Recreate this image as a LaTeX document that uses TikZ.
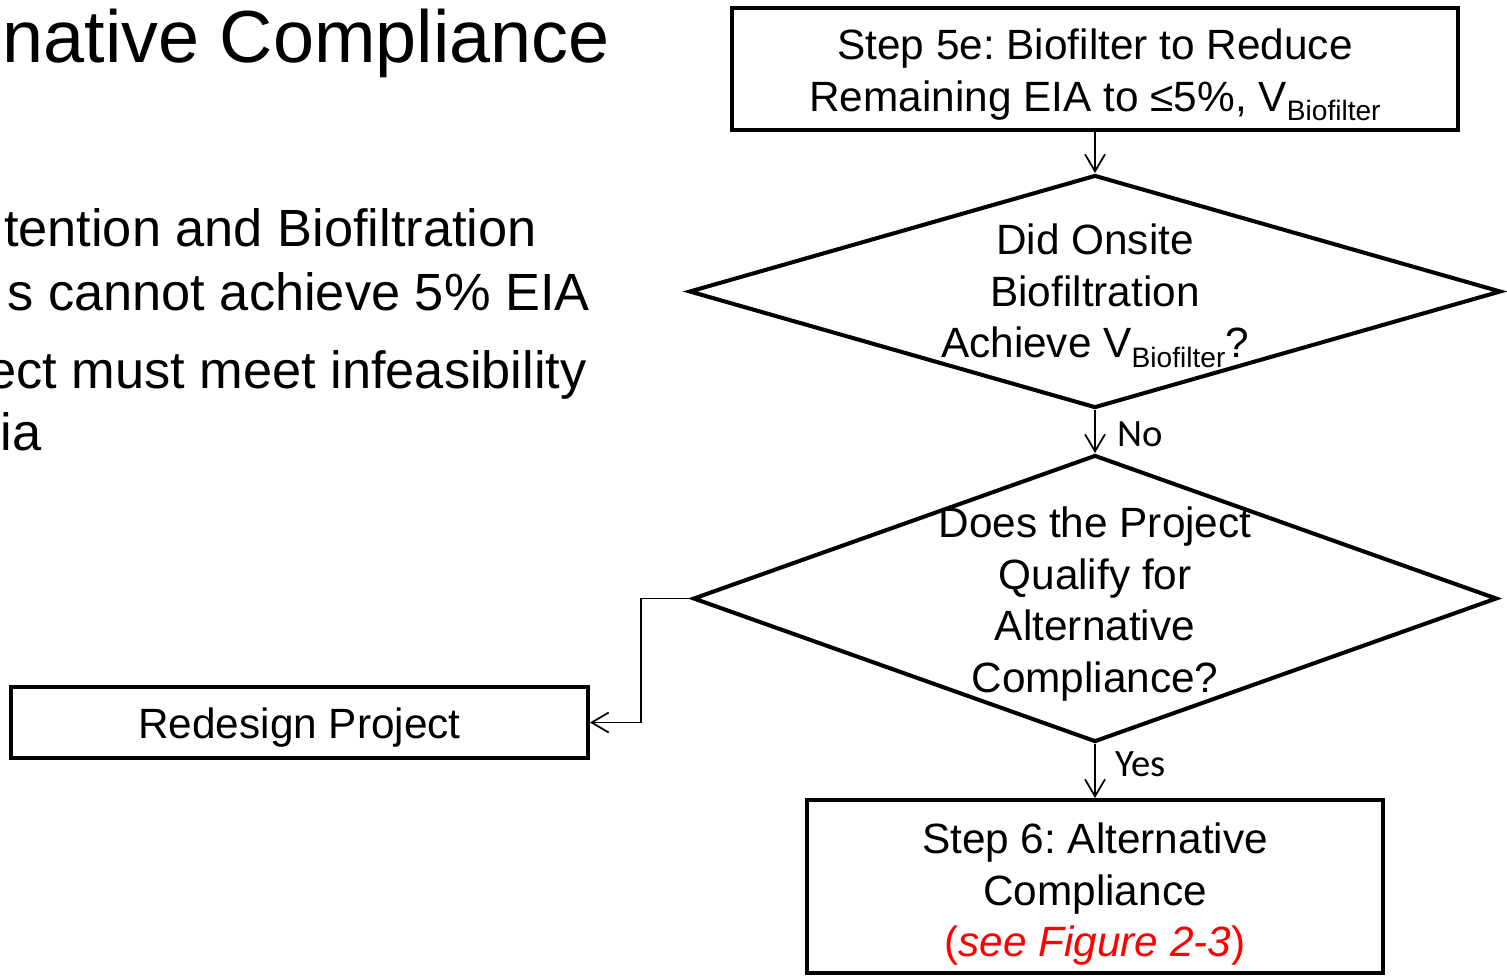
\documentclass[tikz,border=0pt]{standalone}
\usepackage{fontspec}
\setmainfont{Liberation Sans}
\newfontfamily\labelfont{Carlito}
\usetikzlibrary{shapes.geometric,arrows.meta}
\frenchspacing

\newcommand{\vbio}{V\raisebox{-5.5pt}{\fontsize{16}{16}\selectfont Biofilter}}

\begin{document}
\begin{tikzpicture}[x=0.02cm,y=-0.02cm]
\tikzstyle{stepbox}=[draw, line width=2.3pt, inner sep=0pt]
\tikzstyle{decision}=[draw, diamond, line width=2.3pt, inner sep=0pt]
\tikzstyle{inside}=[align=center, inner sep=0pt, font=\fontsize{24.1}{29.3}\selectfont]
\tikzstyle{conn}=[line width=1pt, -{Straight Barb[length=0.34cm,width=0.4cm]}]
\tikzstyle{answer}=[inner sep=0pt, anchor=base west, font=\labelfont\fontsize{22}{22}\selectfont]
\tikzstyle{slide}=[inner sep=0pt, anchor=base east]

\useasboundingbox (0,0) rectangle (1507,975);

% slide text, cut at the left edge
\node[slide, font=\fontsize{42}{50}\selectfont] (title) at (610,62) {native Compliance};
\node[slide, font=\fontsize{29.8}{36}\selectfont] (line1) at (537,246) {tention and Biofiltration};
\node[slide, font=\fontsize{29.8}{36}\selectfont] (line2) at (590,310) {s cannot achieve 5\% EIA};
\node[slide, font=\fontsize{29.8}{36}\selectfont] (line3) at (587,388) {ect must meet infeasibility};
\node[slide, font=\fontsize{29.8}{36}\selectfont] (line4) at (42,450) {ia};

% flow chart
\node[stepbox, minimum width=14.52cm, minimum height=2.44cm] (s5e) at (1095,69) {};
\node[inside] (s5etext) at (1095,75) {Step 5e: Biofilter to Reduce\\Remaining EIA to ≤5\%, \vbio};
\node[decision, minimum width=16.24cm, minimum height=4.66cm] (q1) at (1095,291.5) {};
\node[inside] (q1text) at (1095,296) {Did Onsite\\Biofiltration\\Achieve \vbio?};
\node[decision, minimum width=16.08cm, minimum height=5.74cm] (q2) at (1095,598.5) {};
\node[inside] (q2text) at (1095,604) {Does the Project\\Qualify for\\Alternative\\Compliance?};
\node[stepbox, minimum width=11.52cm, minimum height=3.46cm] (s6) at (1095,886.5) {};
\node[inside] (s6text) at (1095,894.5) {Step 6: Alternative\\Compliance\\\textcolor{red}{(\textit{see Figure 2-3})}};
\node[stepbox, minimum width=11.54cm, minimum height=1.42cm] (redesign) at (299.5,722.5) {};
\node[inside] (redesigntext) at (299.5,727.5) {Redesign Project};
\coordinate (bend) at (641,598.5);

\draw[conn] (s5e) -- (q1);
\draw[conn] (q1) -- (q2);
\draw[conn] (q2) -- (s6);
\draw[conn] (q2.west) -- (bend) |- (redesign.east);

\node[answer] (no) at (1117,446) {No};
\node[answer] (yes) at (1115,776) {Yes};
\end{tikzpicture}
\end{document}
